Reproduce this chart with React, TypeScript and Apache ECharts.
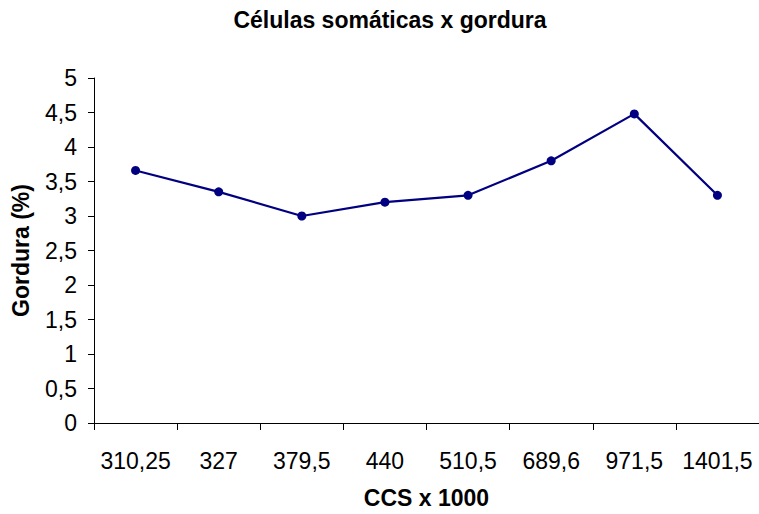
import React, { useEffect, useRef } from "react";
import * as echarts from "echarts";

const categories = ["310,25", "327", "379,5", "440", "510,5", "689,6", "971,5", "1401,5"];
const gordura = [3.66, 3.35, 3.0, 3.2, 3.3, 3.8, 4.48, 3.3];
const titleText = "Células somáticas x gordura";
const xName = "CCS x 1000";
const yName = "Gordura (%)";

export default function App() {
  const ref = useRef<HTMLDivElement>(null);
  useEffect(() => {
    document.body.style.margin = "0";
    const chart = echarts.init(ref.current!, null, { renderer: "svg" });
    const font = "'Liberation Sans', Arial, sans-serif";
    chart.setOption({
      animation: false,
      backgroundColor: "#ffffff",
      title: {
        text: titleText,
        left: 385,
        textAlign: "center",
        top: 3,
        textStyle: { fontFamily: font, fontSize: 23, fontWeight: "bold", color: "#000" },
      },
      grid: { left: 94, top: 78, width: 672, height: 350 },
      xAxis: {
        type: "category",
        data: categories,
        boundaryGap: true,
        name: xName,
        nameLocation: "middle",
        nameGap: 63,
        nameTextStyle: { fontFamily: font, fontSize: 23, fontWeight: "bold", color: "#000" },
        axisLine: { lineStyle: { color: "#000", width: 1 } },
        axisTick: { show: true, length: 7, lineStyle: { color: "#000" } },
        axisLabel: { fontFamily: font, fontSize: 23, color: "#000", margin: 26, interval: 0 },
        splitLine: { show: false },
      },
      yAxis: {
        type: "value",
        min: 0,
        max: 5,
        interval: 0.5,
        name: yName,
        nameLocation: "middle",
        nameGap: 62,
        nameRotate: 90,
        nameTextStyle: { fontFamily: font, fontSize: 23, fontWeight: "bold", color: "#000" },
        axisLine: { show: true, lineStyle: { color: "#000", width: 1 } },
        axisTick: { show: true, length: 6, lineStyle: { color: "#000" } },
        axisLabel: {
          fontFamily: font,
          fontSize: 23,
          color: "#000",
          margin: 17,
          formatter: (v: number) => String(v).replace(".", ","),
        },
        splitLine: { show: false },
      },
      series: [
        {
          type: "line",
          data: gordura,
          symbol: "circle",
          symbolSize: 9,
          itemStyle: { color: "#000080" },
          lineStyle: { color: "#000080", width: 2.2 },
        },
      ],
    });
    return () => chart.dispose();
  }, []);
  return <div ref={ref} style={{ width: 759, height: 514 }} />;
}
